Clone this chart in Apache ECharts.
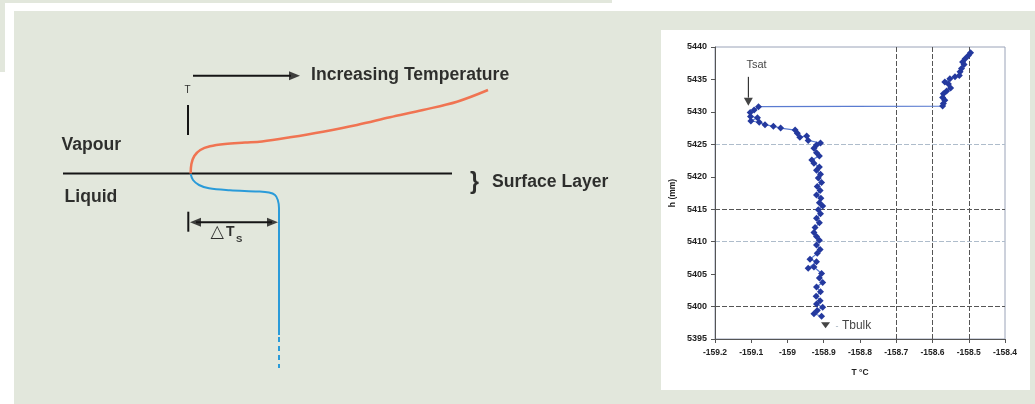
<!DOCTYPE html>
<html><head><meta charset="utf-8">
<script src="https://cdn.jsdelivr.net/npm/echarts@6/dist/echarts.min.js"></script>
<style>html,body{margin:0;padding:0;background:#fff}#c{width:1035px;height:404px}</style>
</head><body><div id="c"></div>
<script>
// ---------- Right chart: measured temperature profile ----------
const xTickLabels = ['-159.2','-159.1','-159','-158.9','-158.8','-158.7','-158.6','-158.5','-158.4'];
const yTickLabels = ['5395','5400','5405','5410','5415','5420','5425','5430','5435','5440'];
const tempC = [
  -158.495,-158.501,-158.510,-158.517,-158.513,-158.520,-158.524,-158.526,-158.538,-158.552,
  -158.566,-158.556,-158.550,-158.561,-158.570,-158.572,-158.566,-158.570,-158.572,
  -159.080,-159.092,-159.103,-159.102,-159.083,-159.101,-159.078,-159.062,-159.039,-159.019,
  -158.979,-158.973,-158.966,-158.947,-158.943,-158.909,-158.920,-158.927,-158.920,-158.912,
  -158.933,-158.927,-158.912,-158.920,-158.909,-158.915,-158.906,-158.918,-158.910,-158.920,
  -158.908,-158.912,-158.903,-158.915,-158.909,-158.920,-158.912,-158.924,-158.927,-158.920,
  -158.912,-158.920,-158.910,-158.918,-158.938,-158.920,-158.943,-158.927,-158.906,-158.912,
  -158.903,-158.920,-158.909,-158.921,-158.910,-158.920,-158.903,-158.918,-158.927,-158.906
];
const heightMm = [
  5439.1,5438.7,5438.2,5437.7,5437.3,5436.7,5436.2,5435.6,5435.4,5435.1,
  5434.6,5434.3,5433.7,5433.2,5432.8,5432.2,5431.8,5431.3,5430.9,
  5430.8,5430.3,5429.9,5429.3,5429.1,5428.6,5428.4,5428.0,5427.8,5427.5,
  5427.2,5426.7,5426.1,5426.3,5425.6,5425.2,5424.9,5424.4,5423.7,5423.2,
  5422.6,5422.1,5421.5,5421.0,5420.4,5419.8,5419.1,5418.5,5417.9,5417.2,
  5416.7,5416.0,5415.5,5414.9,5414.3,5413.6,5412.9,5412.2,5411.4,5410.8,
  5410.2,5409.5,5408.8,5408.2,5407.3,5406.9,5405.9,5406.1,5405.1,5404.4,
  5403.7,5403.0,5402.3,5401.6,5400.9,5400.4,5399.9,5399.4,5398.9,5398.5
];
const tsatShaft = [[-159.108, 5435.4], [-159.108, 5432.2]];
const tsatHead = [-159.108, 5431.57];
const tsatLabelPos = [-159.084, 5437.2];
const tbulkHead = [-158.895, 5397.1];
const tbulkLabelPos = [-158.866, 5396.9];

// ---------- Left schematic (schematic units) ----------
const schemRangeX = [0, 640];
const schemRangeY = [0, 404];
const vapourProfile = [[190.7,173.5],[191.4,164],[194.3,156],[200.3,150],[210,146.3],[225,144],[245,142.6],[262,141.4],[290,137.3],[323,131.7],[357,125],[390,117.3],[423,110],[457,101.7],[488,90]];
const liquidProfile = [[190.7,174],[193,180],[199,185],[209,188.3],[230,190.2],[258,191.5],[269,192.6],[275,195],[277.8,200],[279,208],[279,230],[279,335]];
const liquidTail = [[279,337],[279,368]];
const interfaceLine = [[63,173.5],[452,173.5]];
const tTick = [[188,105],[188,135]];
const tempArrowShaft = [[193,75.7],[291,75.7]];
const tempArrowHead = [294.5,75.7];
const dTsTick = [[188.3,211.7],[188.3,231.7]];
const dTsShaft = [[196,222.3],[272,222.3]];
const dTsHeadLeft = [195.5,222.3];
const dTsHeadRight = [272.5,222.3];
const schemTexts = [
  {name:'Increasing Temperature', value:[311.5,76], size:17.6, bold:true, align:'left'},
  {name:'T', value:[188,91], size:10, bold:false, align:'center'},
  {name:'Vapour', value:[62,146], size:17.6, bold:true, align:'left'},
  {name:'Liquid', value:[65,198], size:17.6, bold:true, align:'left'},
  {name:'}', value:[475,183], size:23, bold:true, align:'center'},
  {name:'Surface Layer', value:[492.5,183], size:17.6, bold:true, align:'left'},
  {name:'\u25B3', value:[211,233], size:17.5, bold:false, align:'left'},
  {name:'T', value:[226.5,233], size:14, bold:true, align:'left'},
  {name:'S', value:[236.5,239.5], size:9.5, bold:true, align:'left'}
];

const GRAY = '#e2e7dc';
const BLACK = '#151515';
const chart = echarts.init(document.getElementById('c'));

function segLine(data, color, width, type, z) {
  return {type:'line', xAxisIndex:0, yAxisIndex:0, data, symbol:'none', silent:true,
    lineStyle:{color, width, type: type || 'solid'}, z: z || 3};
}
function head(pt, rot, size, xi, color) {
  return {type:'scatter', xAxisIndex:xi, yAxisIndex:xi, data:[pt], symbol:'triangle',
    symbolRotate:rot, symbolSize:size, itemStyle:{color: color || BLACK}, silent:true, z:4};
}

const splitY = ['rgba(0,0,0,0)','#555','rgba(0,0,0,0)','#aebccb','#555','rgba(0,0,0,0)','#aebccb','rgba(0,0,0,0)','rgba(0,0,0,0)','rgba(0,0,0,0)'];
const splitX = ['rgba(0,0,0,0)','rgba(0,0,0,0)','rgba(0,0,0,0)','rgba(0,0,0,0)','rgba(0,0,0,0)','#555','#555','#555','rgba(0,0,0,0)'];

const xMin = parseFloat(xTickLabels[0]), xMax = parseFloat(xTickLabels[xTickLabels.length-1]);
const yMin = parseFloat(yTickLabels[0]), yMax = parseFloat(yTickLabels[yTickLabels.length-1]);

chart.setOption({
  animation:false,
  backgroundColor:'#ffffff',
  graphic:{elements:[
    {type:'rect', z:-10, shape:{x:0,y:0,width:612,height:3}, style:{fill:GRAY}},
    {type:'rect', z:-10, shape:{x:0,y:0,width:5,height:72}, style:{fill:GRAY}},
    {type:'rect', z:-10, shape:{x:14,y:11,width:1021,height:393}, style:{fill:GRAY}},
    {type:'rect', z:-9, shape:{x:661,y:30,width:369,height:360}, style:{fill:'#ffffff'}}
  ]},
  grid:[
    {left:0, top:0, width:640, height:404, show:false},
    {left:715, top:47, width:290, height:292, show:true, backgroundColor:'rgba(0,0,0,0)', borderColor:'#9aa3b8', borderWidth:1}
  ],
  xAxis:[
    {gridIndex:0, type:'value', min:schemRangeX[0], max:schemRangeX[1], show:false},
    {gridIndex:1, type:'value', min:xMin, max:xMax, interval:0.1,
     name:'T \u00B0C', nameLocation:'middle', nameGap:29,
     nameTextStyle:{fontSize:8.5, fontWeight:'bold', color:'#222', fontFamily:'Liberation Sans'},
     axisLine:{show:true, lineStyle:{color:'#555', width:1}},
     axisTick:{show:true, length:4, lineStyle:{color:'#555'}},
     axisLabel:{fontSize:8.5, fontWeight:'bold', color:'#222', margin:9, fontFamily:'Liberation Sans',
       formatter:(v)=>{ const i=Math.round((v-xMin)/0.1); return xTickLabels[i] ?? ''; }},
     splitLine:{show:true, lineStyle:{color:splitX, width:1, type:[5,2]}}}
  ],
  yAxis:[
    {gridIndex:0, type:'value', min:schemRangeY[0], max:schemRangeY[1], inverse:true, show:false},
    {gridIndex:1, type:'value', min:yMin, max:yMax, interval:5,
     name:'h (mm)', nameLocation:'middle', nameGap:38, nameRotate:90,
     nameTextStyle:{fontSize:8.5, fontWeight:'bold', color:'#222', fontFamily:'Liberation Sans'},
     axisLine:{show:true, lineStyle:{color:'#555', width:1}},
     axisTick:{show:true, length:4, lineStyle:{color:'#555'}},
     axisLabel:{fontSize:9, fontWeight:'bold', color:'#222', margin:8, fontFamily:'Liberation Sans',
       formatter:(v)=>{ const i=Math.round((v-yMin)/5); return yTickLabels[i] ?? ''; }},
     splitLine:{show:true, lineStyle:{color:splitY, width:1, type:[5,2]}}}
  ],
  series:[
    // schematic
    segLine(interfaceLine, BLACK, 2),
    segLine(tTick, BLACK, 2),
    segLine(tempArrowShaft, BLACK, 2),
    head(tempArrowHead, -90, [9,11], 0),
    segLine(dTsTick, BLACK, 2),
    segLine(dTsShaft, BLACK, 2),
    head(dTsHeadLeft, 90, [9,11], 0),
    head(dTsHeadRight, -90, [9,11], 0),
    {type:'line', xAxisIndex:0, yAxisIndex:0, data:vapourProfile, smooth:0.35, symbol:'none', silent:true,
     lineStyle:{color:'#f07452', width:2.5}, z:3},
    {type:'line', xAxisIndex:0, yAxisIndex:0, data:liquidProfile, smooth:0.35, symbol:'none', silent:true,
     lineStyle:{color:'#2a9bd9', width:2}, z:3},
    segLine(liquidTail, '#2a9bd9', 2, [5,4]),
    {type:'scatter', xAxisIndex:0, yAxisIndex:0, silent:true, z:5, symbolSize:1,
     itemStyle:{color:'rgba(0,0,0,0)'},
     data: schemTexts.map(t => ({name:t.name, value:t.value, label:{show:true, position:[0,0],
       align:t.align, verticalAlign:'middle', formatter:t.name, fontSize:t.size,
       fontWeight:t.bold?'bold':'normal', color:'#000', fontFamily:'Liberation Sans, DejaVu Sans'}}))},
    // measured profile
    {type:'line', xAxisIndex:1, yAxisIndex:1, data: tempC.map((t,i)=>[t, heightMm[i]]),
     symbol:'diamond', symbolSize:7, showAllSymbol:true, silent:true,
     itemStyle:{color:'#24399e'}, lineStyle:{color:'#5a7bd0', width:1.2}, z:3},
    {type:'line', xAxisIndex:1, yAxisIndex:1, data:tsatShaft, symbol:'none', silent:true,
     lineStyle:{color:'#111', width:1}, z:4},
    head(tsatHead, 180, [9,8], 1),
    head(tbulkHead, 180, [9,6], 1),
    {type:'scatter', xAxisIndex:1, yAxisIndex:1, silent:true, z:5, symbolSize:1,
     itemStyle:{color:'rgba(0,0,0,0)'},
     data:[
       {value:tsatLabelPos, label:{show:true, position:[0,0], align:'center', verticalAlign:'middle',
         formatter:'Tsat', fontSize:11, color:'#111', fontFamily:'Liberation Sans'}},
       {value:tbulkLabelPos, label:{show:true, position:[0,0], align:'left', verticalAlign:'middle',
         formatter:'{d|-} Tbulk', fontSize:12, color:'#111', fontFamily:'Liberation Sans',
         rich:{d:{fontSize:9, color:'#8899aa'}}}}
     ]}
  ]
});
</script></body></html>
